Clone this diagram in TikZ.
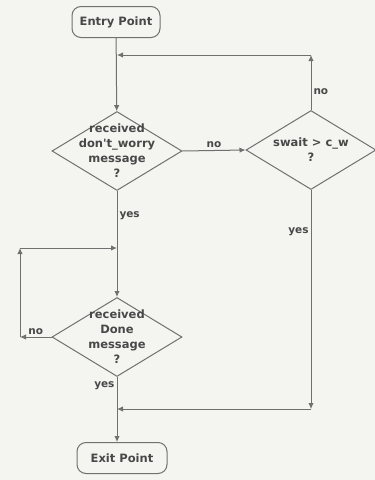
\documentclass[tikz,border=0pt]{standalone}
\usepackage{fontspec}
\setmainfont{DejaVu Sans}
\usepackage{tikz}
\usetikzlibrary{arrows.meta}
\usetikzlibrary{shapes.geometric}
\usetikzlibrary{calc}

\definecolor{linegray}{RGB}{112,112,112}
\definecolor{textgray}{RGB}{72,72,72}
\definecolor{papergray}{RGB}{244,244,241}

\begin{document}
\begin{tikzpicture}[
  x=1pt,
  y=-1pt
]

  \tikzstyle{terminal}=[draw=linegray,line width=1pt,rectangle,rounded corners=9pt,minimum height=31pt,inner sep=0pt,text=textgray,font=\fontsize{11.5}{14}\bfseries]
  \tikzstyle{decision}=[draw=linegray,line width=1pt,diamond,minimum width=130pt,minimum height=79pt,inner sep=0pt]
  \tikzstyle{dectext}=[align=center,text=textgray,font=\fontsize{11.5}{15}\bfseries]

  \tikzstyle{flow}=[draw=linegray,line width=1pt,-{Latex[length=6pt,width=5.5pt]}]
  \tikzstyle{flowlab}=[text=textgray,font=\fontsize{10.5}{12}\bfseries,inner sep=2pt]

  % paper
  \fill[papergray] (0,0) rectangle (375,480);
  \useasboundingbox (0,0) rectangle (375,480);

  % nodes
  \node[terminal,minimum width=88pt] (entry) at (116,22) {Entry Point};
  \node[decision,label={[dectext]center:{received\\don\textquotesingle t\_worry\\message\\?}}] (waitmsg) at (117,151) {};
  \node[decision,label={[dectext]center:{swait > c\_w\\?}}] (timeout) at (311,150) {};
  \node[decision,label={[dectext]center:{received\\Done\\message\\?}}] (donemsg) at (117,337) {};
  \node[terminal,minimum width=90pt] (exit) at (122,458) {Exit Point};

  % bends
  \coordinate (retTop)   at (311,55);
  \coordinate (joinTop)  at (117,55);
  \coordinate (retBot)   at (311,409);
  \coordinate (joinBot)  at (117,409);
  \coordinate (loopL)    at (20,337);
  \coordinate (loopTL)   at (20,248);
  \coordinate (joinLoop) at (117,248);

  % connectors
  \draw[flow] (entry)           -- (waitmsg);
  \draw[flow] (waitmsg.east)    -- node[flowlab,above] {no} (timeout.west);
  \draw[flow] (timeout.north)   -- node[flowlab,right,pos=0.33] {no} (retTop);
  \draw[flow] (retTop)          -- (joinTop);

  \draw[flow] (waitmsg.south)   -- node[flowlab,right,pos=0.23] {yes} (donemsg.north);
  \draw[flow] (donemsg.west)    -- node[flowlab,above] {no} (loopL);
  \draw[flow] (loopL)           -- (loopTL);
  \draw[flow] (loopTL)          -- (joinLoop);

  \draw[flow] (timeout.south)   -- node[flowlab,left,pos=0.19] {yes} (retBot);
  \draw[flow] (retBot)          -- (joinBot);

  \draw[flow] (donemsg.south)   -- node[flowlab,left,pos=0.14] {yes} (donemsg.south |- exit.north);

\end{tikzpicture}
\end{document}
